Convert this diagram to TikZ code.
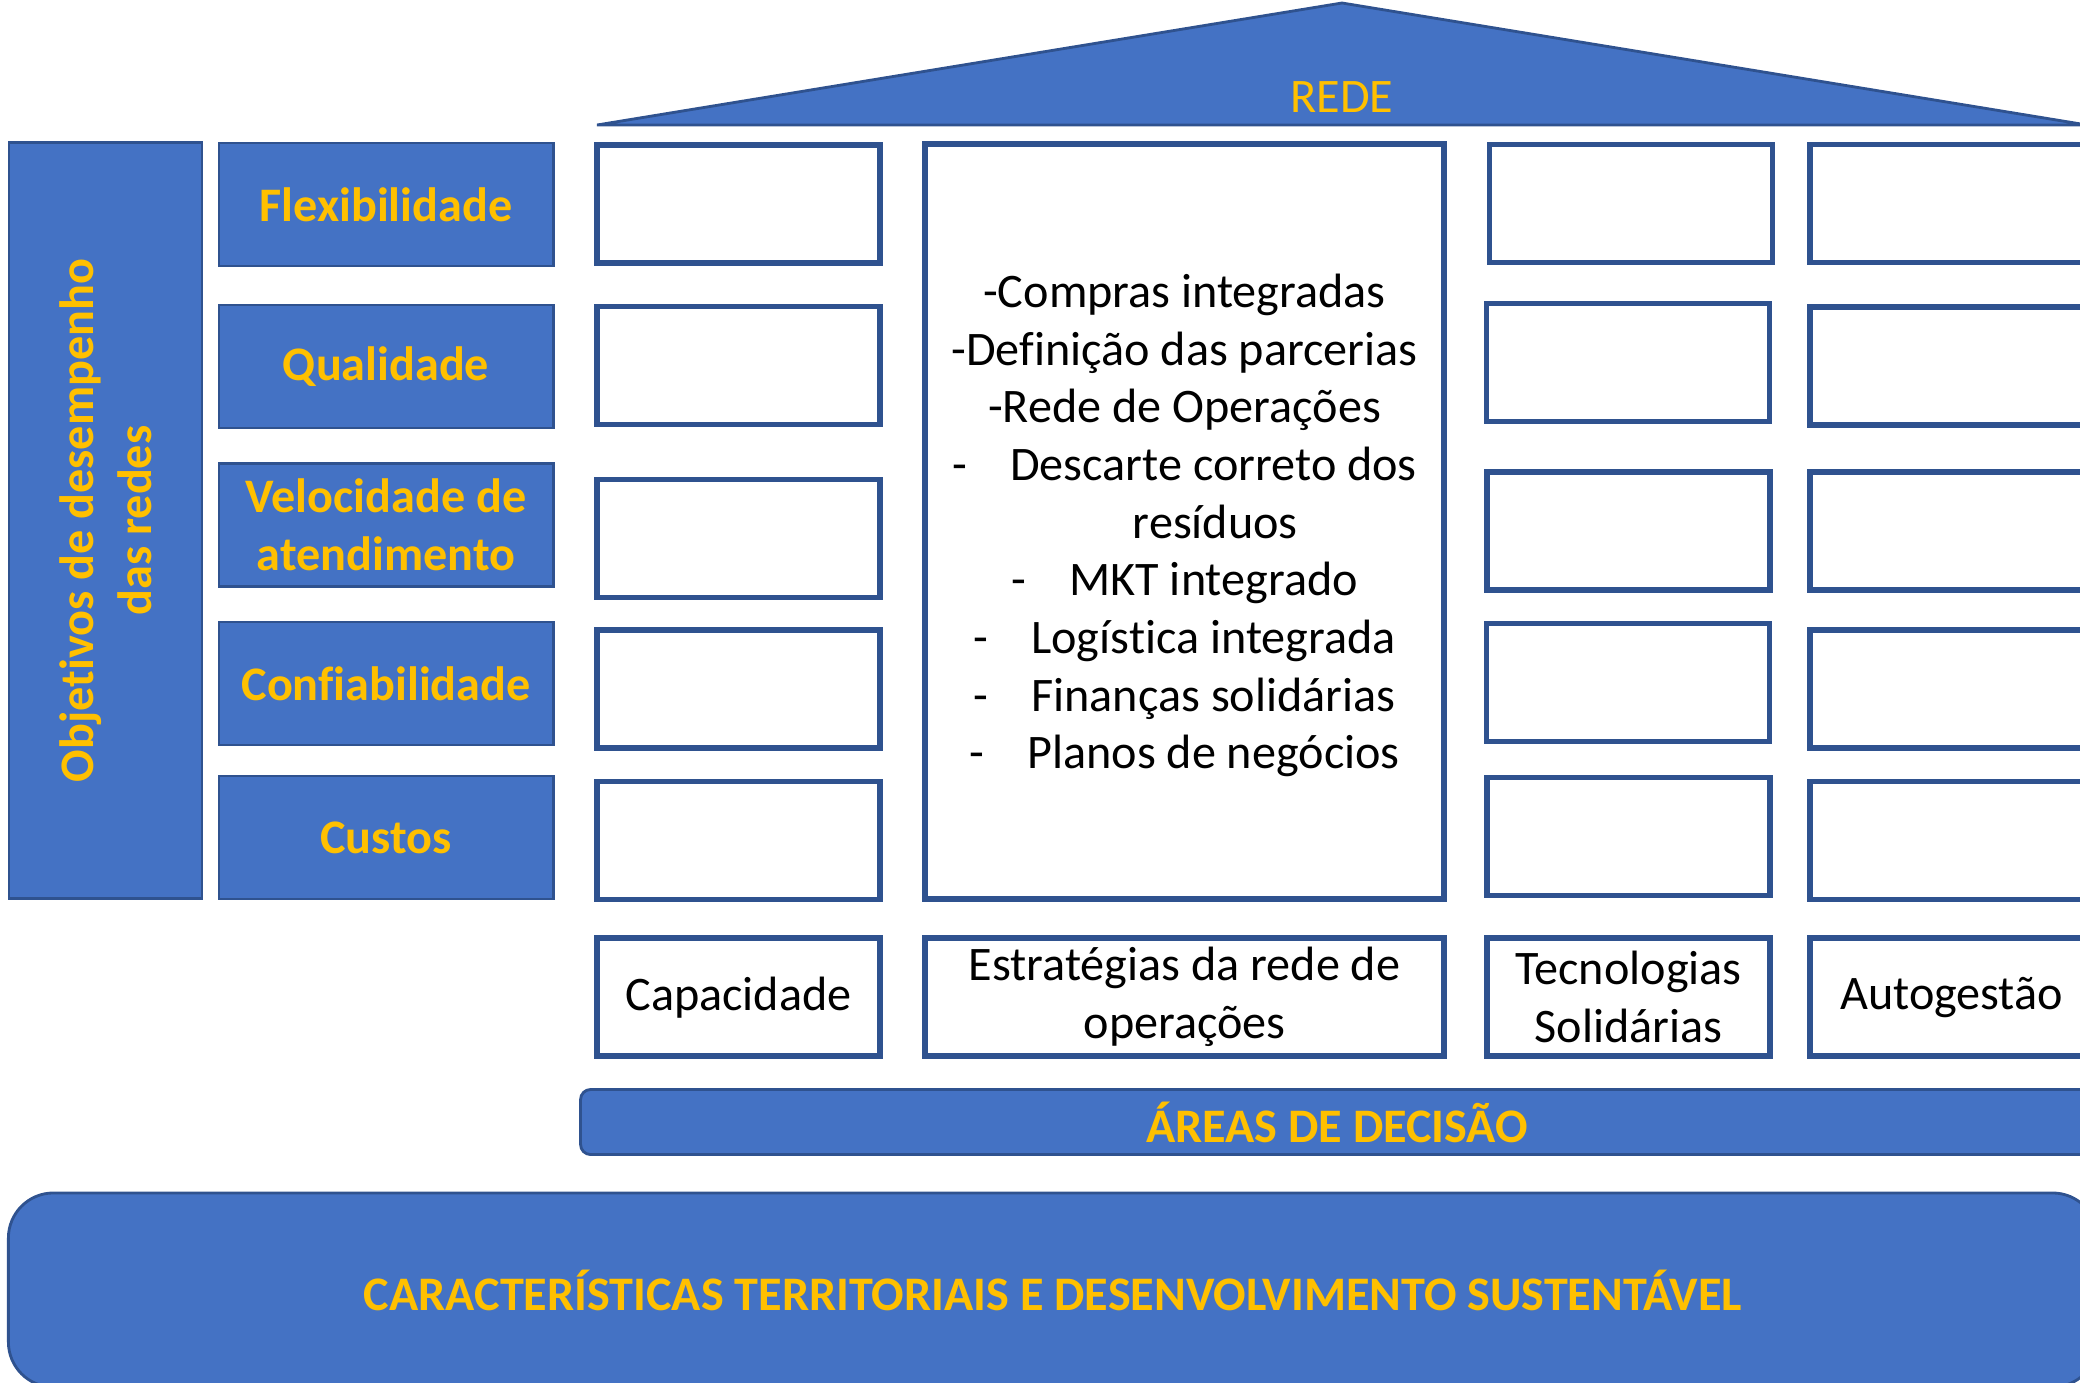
\documentclass[tikz,border=0pt]{standalone}
\usepackage{fontspec}
\setmainfont[Ligatures={TeX,NoCommon}]{Carlito}
\usepackage{tikz}
\usetikzlibrary{positioning}
\definecolor{hsBlue}{RGB}{68,114,196}
\definecolor{hsDarkBlue}{RGB}{47,82,143}
\definecolor{hsYellow}{RGB}{255,192,0}

\begin{document}
\begin{tikzpicture}[x=0.01cm, y=-0.01cm, font=\fontsize{13.7}{16.4}\selectfont,
	goalbox/.style={draw=hsDarkBlue, line width=0.8pt, fill=hsBlue, text=hsYellow, font=\fontsize{13.7}{16.4}\selectfont\bfseries, align=center, inner sep=0pt},
	emptybox/.style={draw=hsDarkBlue, line width=1.6pt, fill=white, minimum width=2.83cm, minimum height=1.18cm, inner sep=0pt},
	areabox/.style={draw=hsDarkBlue, line width=1.6pt, fill=white, text=black, align=center, minimum height=1.18cm, inner sep=0pt}]
	\useasboundingbox (0,0) rectangle (2080,1382);
	\clip (0,0) rectangle (2080,1382);
	% telhado
	\draw[draw=hsDarkBlue, fill=hsBlue, line width=0.8pt] (597,125) -- (1342,3) -- (2087,125) -- cycle;
	\node[text=hsYellow] (rede) at (1342,97) {REDE};
	% objetivos
	\node[goalbox, rotate=90, minimum width=7.55cm, minimum height=1.93cm] (objetivos) at (105.5,520.5) {Objetivos de desempenho\\das redes};
	\node[goalbox, minimum width=3.34cm, minimum height=1.23cm] (flex) at (386,204.5) {Flexibilidade};
	\node[goalbox, minimum width=3.34cm, minimum height=1.23cm] (qual) at (386,366.5) {Qualidade};
	\node[goalbox, minimum width=3.34cm, minimum height=1.23cm] (vel) at (386,525) {Velocidade de\\atendimento};
	\node[goalbox, minimum width=3.34cm, minimum height=1.23cm] (conf) at (386,683.5) {Confiabilidade};
	\node[goalbox, minimum width=3.34cm, minimum height=1.23cm] (custos) at (386,837.5) {Custos};
	% colunas
	\node[emptybox] (capa1) at (738.5,204) {};
	\node[emptybox] (capa2) at (738.5,365.5) {};
	\node[emptybox] (capa3) at (738.5,538.5) {};
	\node[emptybox] (capa4) at (738.5,689) {};
	\node[emptybox] (capa5) at (738.5,840.5) {};
	\node[emptybox, minimum width=5.19cm, minimum height=7.55cm, align=center, text depth=-0.1cm] (estrat) at (1184.5,521.5) {-Compras integradas\\-Definição das parcerias\\-Rede de Operações\\-\hspace*{0.9em}Descarte correto dos\\\hspace*{1.28em}resíduos\\-\hspace*{0.9em}MKT integrado\\-\hspace*{0.9em}Logística integrada\\-\hspace*{0.9em}Finanças solidárias\\-\hspace*{0.9em}Planos de negócios};
	\node[emptybox] (tec1) at (1631,203.5) {};
	\node[emptybox] (tec2) at (1628,362.5) {};
	\node[emptybox] (tec3) at (1628.5,531) {};
	\node[emptybox] (tec4) at (1628,682.5) {};
	\node[emptybox] (tec5) at (1628.5,836.5) {};
	\node[emptybox] (auto1) at (1951.5,203.5) {};
	\node[emptybox] (auto2) at (1951.5,366) {};
	\node[emptybox] (auto3) at (1951.5,531) {};
	\node[emptybox] (auto4) at (1951.5,689) {};
	\node[emptybox] (auto5) at (1951.5,840.5) {};
	% areas de decisao
	\node[areabox, below=0.33cm of capa5, minimum width=2.83cm] (capacidade) {Capacidade};
	\node[areabox, below=0.33cm of estrat, minimum width=5.19cm] (estrategias) {Estratégias da rede de\\operações};
	\node[areabox, below=0.37cm of tec5, minimum width=2.83cm] (tecnologias) {Tecnologias\\Solidárias};
	\node[areabox, below=0.33cm of auto5, minimum width=2.83cm] (autogestao) {Autogestão};
	\node[goalbox, rounded corners=0.1cm, minimum width=15.12cm, minimum height=0.65cm] (areas) at (1337,1122) {ÁREAS DE DECISÃO};
	\node[goalbox, rounded corners=0.45cm, minimum width=20.88cm, minimum height=1.94cm] (base) at (1053,1290) {CARACTERÍSTICAS TERRITORIAIS E DESENVOLVIMENTO SUSTENTÁVEL};
\end{tikzpicture}
\end{document}
